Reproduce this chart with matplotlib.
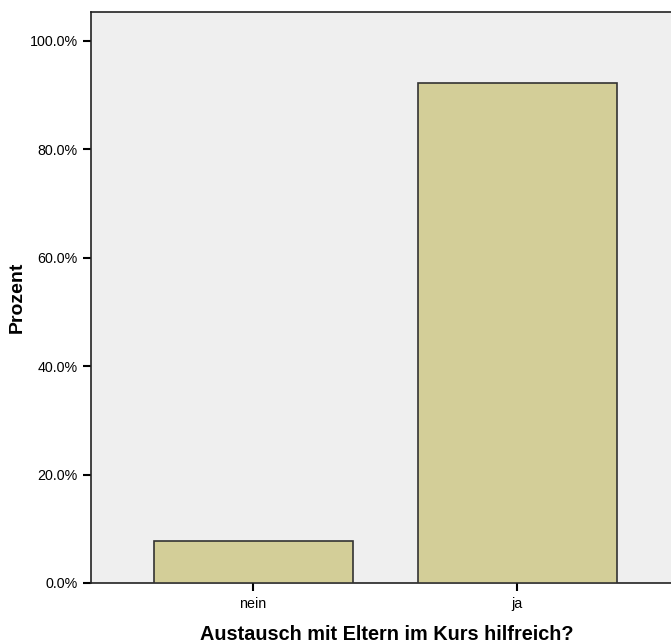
import matplotlib
matplotlib.use("Agg")
import matplotlib.pyplot as plt
from matplotlib.ticker import FuncFormatter

categories = ["nein", "ja"]
percent = [7.7, 92.3]
yticks = [0, 20, 40, 60, 80, 100]

plt.rcParams['font.family'] = ['Liberation Sans', 'DejaVu Sans']

fig = plt.figure(figsize=(6.71, 6.44), dpi=100)
ax = fig.add_axes([91/671, 61/644, 1 - 91/671, 571/644])
ax.set_facecolor("#efefef")

x = list(range(len(categories)))
ax.bar(x, percent, width=0.754, color="#d3ce98", edgecolor="#333333", linewidth=1.2, zorder=3)

ax.set_xlim(-0.614, 1.583)
ax.set_ylim(0, 105.35)
ax.set_xticks(x)
ax.set_xticklabels(categories, fontsize=10)
ax.set_yticks(yticks)
ax.yaxis.set_major_formatter(FuncFormatter(lambda v, p: f"{v:.1f}%"))
ax.tick_params(axis='both', direction='out', length=6, width=1.5, labelsize=10.3, colors='black')
ax.tick_params(axis='x', pad=4)
for s in ['left', 'bottom', 'top']:
    ax.spines[s].set_linewidth(1.2)
    ax.spines[s].set_color('#222222')
ax.spines['right'].set_visible(False)

ax.set_ylabel("Prozent", fontsize=14, fontweight='bold', labelpad=3)
ax.set_xlabel("Austausch mit Eltern im Kurs hilfreich?", fontsize=14.3, fontweight='bold', labelpad=10)
ax.xaxis.set_label_coords(0.51, -0.073)

fig.savefig("out.png", dpi=100)
